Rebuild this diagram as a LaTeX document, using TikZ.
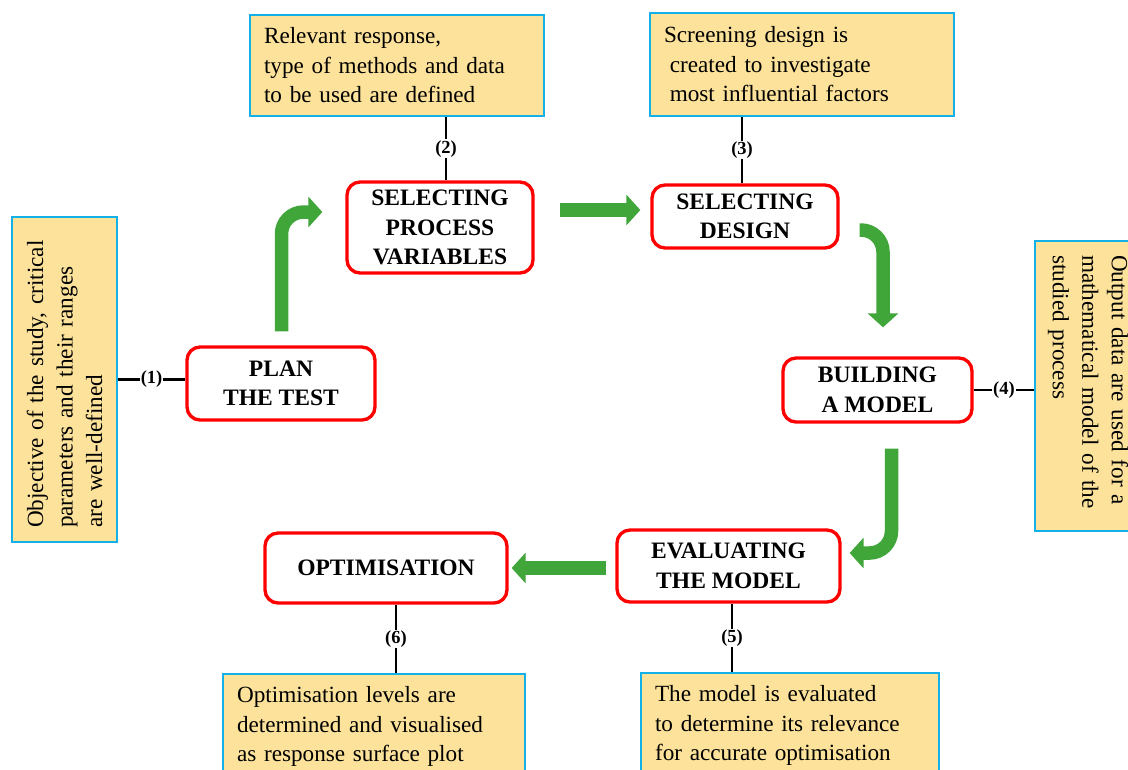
\documentclass[tikz,border=0pt]{standalone}
\usepackage{fontspec}
\setmainfont{Liberation Serif}
\usepackage{tikz}
\usetikzlibrary{arrows.meta,calc}
\definecolor{stagered}{RGB}{255,0,0}
\definecolor{notefill}{RGB}{252,226,154}
\definecolor{noteline}{RGB}{20,176,232}
\definecolor{flowgreen}{RGB}{64,166,58}
\tikzset{
	stage/.style={draw=stagered, line width=1.9pt, rounded corners=0.26cm, fill=white, align=center, inner sep=2pt, font=\fontsize{13.4}{16.8}\selectfont\bfseries},
	note/.style={draw=noteline, fill=notefill, line width=1pt, align=left, inner xsep=0.28cm, font=\fontsize{13.2}{16.8}\selectfont},
	link/.style={draw=black, line width=1.6pt},
	tag/.style={fill=white, inner sep=0.5pt, font=\fontsize{10.5}{12}\selectfont\bfseries},
	flow/.style={draw=flowgreen, line width=0.27cm, rounded corners=0.44cm, -{Triangle[length=0.28cm,width=0.6cm]}}
}

\begin{document}
\begin{tikzpicture}[x=0.02cm, y=-0.02cm]
	\useasboundingbox (0,0) rectangle (1128,769);
	\clip (0,0) rectangle (1128,769);
	\node at (281,383.5) [stage, minimum width=3.76cm, minimum height=1.46cm] (plan) {PLAN\\THE TEST};
	\node at (440,227.5) [stage, minimum width=3.72cm, minimum height=1.82cm] (select) {SELECTING\\PROCESS\\VARIABLES};
	\node at (745,216.5) [stage, minimum width=3.72cm, minimum height=1.26cm] (design) {SELECTING\\DESIGN};
	\node at (877.5,390) [stage, minimum width=3.78cm, minimum height=1.28cm] (model) {BUILDING\\A MODEL};
	\node at (728.5,566) [stage, minimum width=4.46cm, minimum height=1.44cm] (evaluate) {EVALUATING\\THE MODEL};
	\node at (386,568) [stage, minimum width=4.84cm, minimum height=1.4cm] (optimise) {OPTIMISATION};

	\node at (64.5,379.5) [note, rotate=90, text width=5.94cm, minimum height=2.1cm] (goal) {Objective of the study, critical\\parameters and their ranges\\are well-defined};
	\node at (397,65.5) [note, text width=5.32cm, minimum height=2.02cm] (response) {Relevant response,\\type of methods and data\\to be used are defined};
	\node at (802,64.5) [note, text width=5.52cm, minimum height=2.06cm] (screen) {Screening design is\\\hspace*{0.25em}created to investigate\\\hspace*{0.25em}most influential factors};
	\node at (1088,386) [note, rotate=-90, text width=5.24cm, minimum height=2.12cm] (output) {Output data are used for a\\mathematical model of the\\studied process};
	\node at (790,725.5) [note, text width=5.4cm, minimum height=2.1cm] (accuracy) {The model is evaluated\\to determine its relevance\\for accurate optimisation};
	\node at (374,726.5) [note, text width=5.48cm, minimum height=2.1cm] (levels) {Optimisation levels are\\determined and visualised\\as response surface plot};

	\draw[link] (goal.south) -- (goal.south -| plan.west) node[tag, midway] {(1)};
	\draw[link] ([xshift=0.12cm]select.north) -- ([xshift=0.12cm]select.north |- response.south) node[tag, midway] {(2)};
	\draw[link] ([xshift=-0.06cm]design.north) -- ([xshift=-0.06cm]design.north |- screen.south) node[tag, midway] {(3)};
	\draw[link] (model.east) -- (model.east -| output.south) node[tag, midway] {(4)};
	\draw[link] ([xshift=0.07cm]evaluate.south) -- ([xshift=0.07cm]evaluate.south |- accuracy.north) node[tag, midway] {(5)};
	\draw[link] ([xshift=0.2cm]optimise.south) -- ([xshift=0.2cm]optimise.south |- levels.north) node[tag, midway] {(6)};

	\draw[flow] ($(plan.north)+(0.5,-14)$) |- ($(select.west)+(-23,-15.5)$);
	\draw[flow] ($(select.east)+(25,-17.5)$) -- ($(design.west)+(-10,-6.5)$);
	\draw[flow] ($(design.east)+(20,13.5)$) -| ($(model.north)+(5.5,-29)$);
	\draw[flow] ($(model.south)+(14,25)$) |- ($(evaluate.east)+(8,-13)$);
	\draw[flow] ($(evaluate.west)+(-9,2)$) -- ($(optimise.east)+(3,0)$);
\end{tikzpicture}
\end{document}
